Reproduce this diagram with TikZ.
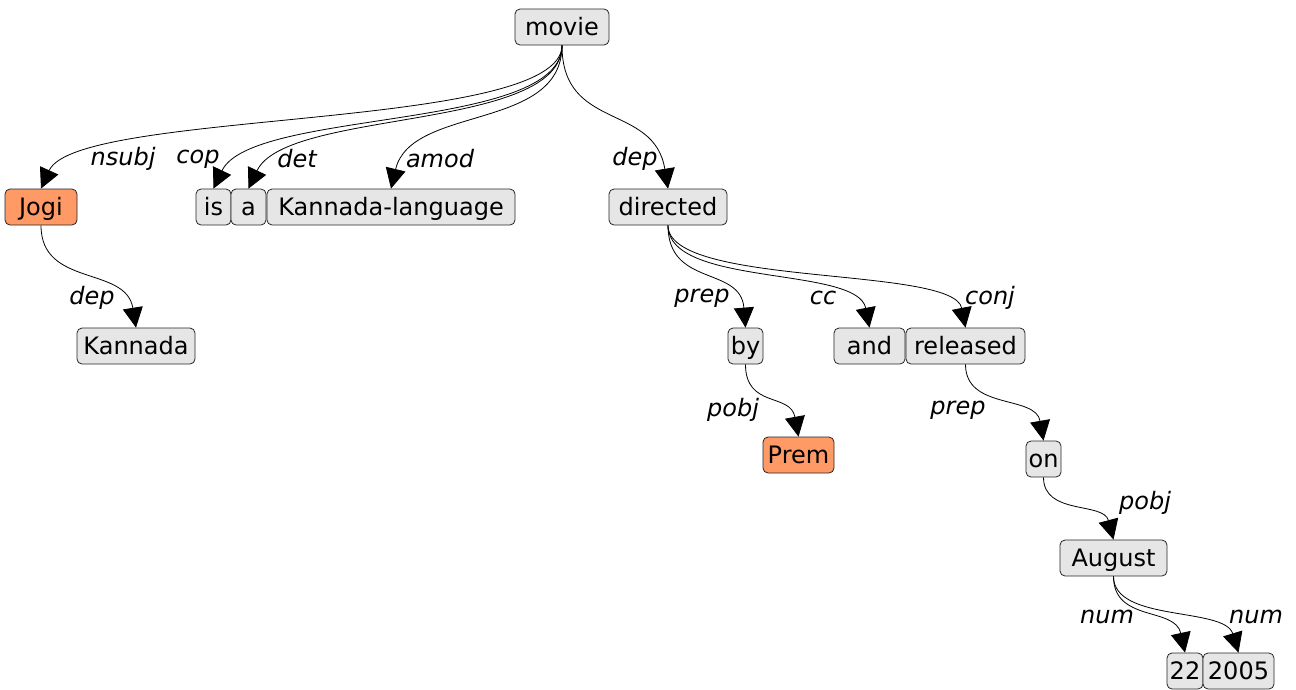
\documentclass[tikz,border=0pt]{standalone}
\usepackage{fontspec}
\setmainfont{DejaVu Sans}
\usetikzlibrary{arrows.meta}
\definecolor{boxgray}{HTML}{E6E6E6}
\definecolor{boxorange}{HTML}{FF9966}
\begin{document}
\begin{tikzpicture}[x=1pt,y=-1pt,
  font=\fontsize{24}{28}\selectfont,
  wbox/.style={draw=black!85, fill=boxgray, rounded corners=5pt, minimum height=36pt,
    inner xsep=0pt, inner ysep=0pt, text height=19.5pt, text depth=3.5pt, line width=0.8pt},
  obox/.style={wbox, fill=boxorange},
  edge/.style={draw, line width=0.8pt, -{Triangle[length=20pt,width=20pt]}},
  lab/.style={font=\fontsize{24}{28}\selectfont\itshape, inner sep=0pt}]
\useasboundingbox (0,0) rectangle (1296,689);
% nodes
\node[wbox, minimum width=94pt] (movie) at (562,27) {movie};
\node[obox, minimum width=72pt] (jogi) at (41,207) {Jogi};
\node[wbox, minimum width=35pt] (is) at (213.5,207) {is};
\node[wbox, minimum width=35pt] (a) at (248.5,207) {a};
\node[wbox, minimum width=248pt] (kl) at (391,207) {Kannada-language};
\node[wbox, minimum width=118pt] (directed) at (668,207) {directed};
\node[wbox, minimum width=118pt] (kannada) at (136,346) {Kannada};
\node[wbox, minimum width=35pt] (by) at (745.5,346) {by};
\node[wbox, minimum width=71pt] (and) at (869.5,346) {and};
\node[wbox, minimum width=119pt] (released) at (965.5,346) {released};
\node[obox, minimum width=71pt] (prem) at (798.5,455) {Prem};
\node[wbox, minimum width=35pt] (on) at (1043.5,459) {on};
\node[wbox, minimum width=107pt] (august) at (1113.5,558) {August};
\node[wbox, minimum width=36pt] (n22) at (1185,671) {22};
\node[wbox, minimum width=71pt] (n2005) at (1238.5,671) {2005};
% edges
\draw[edge] (movie.south) .. controls +(0,86) and +(36,-80) .. (jogi.north);
\draw[edge] (movie.south) .. controls +(0,86) and +(38,-80) .. (is.north);
\draw[edge] (movie.south) .. controls +(0,86) and +(38,-80) .. (a.north);
\draw[edge] (movie.south) .. controls +(0,86) and +(20,-84) .. (kl.north);
\draw[edge] (movie.south) .. controls +(0,86) and +(-14,-86) .. (directed.north);
\draw[edge] (jogi.south) .. controls +(0,62) and +(-10,-62) .. (kannada.north);
\draw[edge] (directed.south) .. controls +(0,62) and +(-5,-62) .. (by.north);
\draw[edge] (directed.south) .. controls +(0,62) and +(-12,-62) .. (and.north);
\draw[edge] (directed.south) .. controls +(0,62) and +(-12,-62) .. (released.north);
\draw[edge] (by.south) .. controls +(0,44) and +(-8,-44) .. (prem.north);
\draw[edge] (released.south) .. controls +(0,46) and +(-8,-46) .. (on.north);
\draw[edge] (on.south) .. controls +(0,38) and +(-10,-38) .. (august.north);
\draw[edge] (august.south) .. controls +(0,46) and +(-10,-46) .. (n22.north);
\draw[edge] (august.south) .. controls +(0,46) and +(-14,-46) .. (n2005.north);
% labels
\node[lab] (l1) at (123,159) {nsubj};
\node[lab] (l2) at (198,159) {cop};
\node[lab] (l3) at (297,159) {det};
\node[lab] (l4) at (440,159) {amod};
\node[lab] (l5) at (635,159) {dep};
\node[lab] (l6) at (92,298) {dep};
\node[lab] (l7) at (702,298) {prep};
\node[lab] (l8) at (823,298) {cc};
\node[lab] (l9) at (990,298) {conj};
\node[lab] (l10) at (733,410) {pobj};
\node[lab] (l11) at (958,410) {prep};
\node[lab] (l12) at (1145,503) {pobj};
\node[lab] (l13) at (1107,617) {num};
\node[lab] (l14) at (1256,617) {num};
\end{tikzpicture}
\end{document}
